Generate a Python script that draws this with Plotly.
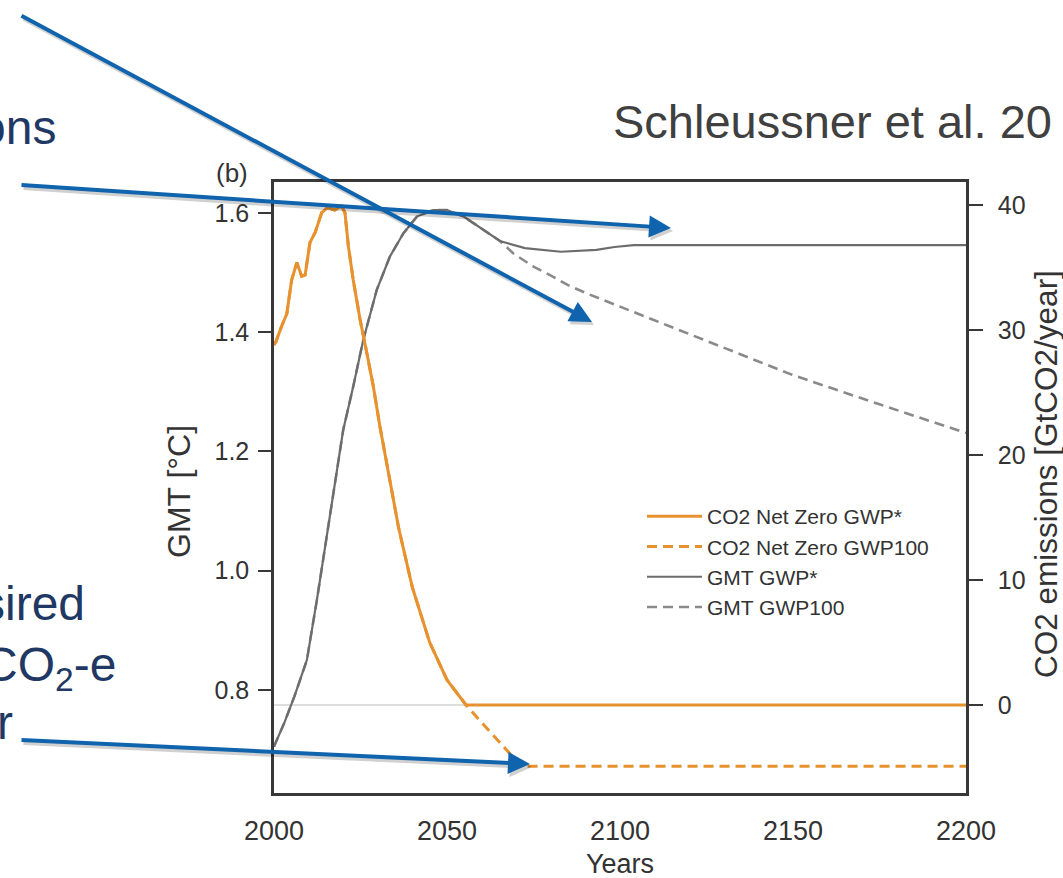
import plotly.graph_objects as go

# ---------------- data ----------------
co2_years_gwpstar = [2000, 2000.6, 2002.2, 2003.7, 2005.1, 2006.6, 2008.0, 2009.0, 2010.4, 2011.9,
                     2013.8, 2015.5, 2017.5, 2019.5, 2020.5, 2021.5, 2022.9, 2024.9, 2026.8, 2028.7,
                     2030.6, 2033, 2036, 2040, 2045, 2050, 2055.5, 2100, 2150, 2200]
co2_gwpstar = [28.8, 29.1, 30.3, 31.3, 34.0, 35.4, 34.3, 34.4, 37.0, 37.8,
               39.4, 39.8, 39.6, 39.9, 39.4, 36.7, 34.0, 30.8, 28.2, 25.5,
               22.3, 18.6, 14.2, 9.4, 5.0, 2.0, 0.0, 0.0, 0.0, 0.0]

co2_years_gwp100 = [2000, 2000.6, 2002.2, 2003.7, 2005.1, 2006.6, 2008.0, 2009.0, 2010.4, 2011.9,
                    2013.8, 2015.5, 2017.5, 2019.5, 2020.5, 2021.5, 2022.9, 2024.9, 2026.8, 2028.7,
                    2030.6, 2033, 2036, 2040, 2045, 2050, 2055.5, 2060, 2065, 2071.5, 2100, 2150, 2200]
co2_gwp100 = [28.8, 29.1, 30.3, 31.3, 34.0, 35.4, 34.3, 34.4, 37.0, 37.8,
              39.4, 39.8, 39.6, 39.9, 39.4, 36.7, 34.0, 30.8, 28.2, 25.5,
              22.3, 18.6, 14.2, 9.4, 5.0, 2.0, 0.0, -1.4, -2.9, -4.9, -4.9, -4.9, -4.9]

gmt_years_gwpstar = [2000, 2003, 2005.9, 2009.5, 2012.4, 2015, 2017.5, 2020, 2022.9, 2025.8,
                     2029.7, 2033.5, 2037.4, 2041.3, 2046, 2050, 2054.8, 2060.5, 2065.3, 2072.5,
                     2082.9, 2093.2, 2098.4, 2104, 2150, 2200]
gmt_gwpstar = [0.705, 0.745, 0.789, 0.850, 0.951, 1.050, 1.145, 1.236, 1.309, 1.387,
               1.471, 1.527, 1.566, 1.594, 1.605, 1.605, 1.594, 1.571, 1.553, 1.541,
               1.535, 1.538, 1.543, 1.546, 1.546, 1.546]

gmt_years_gwp100 = [2000, 2003, 2005.9, 2009.5, 2012.4, 2015, 2017.5, 2020, 2022.9, 2025.8,
                    2029.7, 2033.5, 2037.4, 2041.3, 2046, 2050, 2054.8, 2060.5, 2065.3, 2069.2,
                    2075, 2080.7, 2085, 2090.4, 2100, 2114.5, 2128.9, 2150, 2175, 2200]
gmt_gwp100 = [0.705, 0.745, 0.789, 0.850, 0.951, 1.050, 1.145, 1.236, 1.309, 1.387,
              1.471, 1.527, 1.566, 1.594, 1.605, 1.605, 1.594, 1.571, 1.553, 1.532,
              1.510, 1.493, 1.479, 1.465, 1.443, 1.409, 1.376, 1.328, 1.279, 1.231]

x_ticks = [2000, 2050, 2100, 2150, 2200]
gmt_ticks = [0.8, 1.0, 1.2, 1.4, 1.6]
gmt_ticktext = ["0.8", "1.0", "1.2", "1.4", "1.6"]
co2_ticks = [0, 10, 20, 30, 40]

series_names = ["CO2 Net Zero GWP*", "CO2 Net Zero GWP100", "GMT GWP*", "GMT GWP100"]

# ---------------- styling ----------------
W, H = 1063, 878
ML, MR, MT, MB = 274, 97, 182, 85
PW, PH = W - ML - MR, H - MT - MB
FONT = "Arial, Liberation Sans, Helvetica, sans-serif"
ORANGE = "#e8912f"
GREY_SOLID = "#6c6c6c"
GREY_DASH = "#8a8a8a"
AXC = "#383838"
TXT = "#333333"
NAVY = "#1f3864"
BLUE = "#1063ad"


def px(xp):
    return (xp - ML) / PW


def py(yp):
    return 1 - (yp - MT) / PH


fig = go.Figure()

fig.add_trace(go.Scatter(x=co2_years_gwp100, y=co2_gwp100, name=series_names[1], yaxis="y2",
                         mode="lines", line=dict(color=ORANGE, width=3, dash="10px,6px"),
                         legendrank=2))
fig.add_trace(go.Scatter(x=co2_years_gwpstar, y=co2_gwpstar, name=series_names[0], yaxis="y2",
                         mode="lines", line=dict(color=ORANGE, width=3), legendrank=1))
fig.add_trace(go.Scatter(x=gmt_years_gwp100, y=gmt_gwp100, name=series_names[3], yaxis="y",
                         mode="lines", line=dict(color=GREY_DASH, width=2.6, dash="10px,6px"),
                         legendrank=4))
fig.add_trace(go.Scatter(x=gmt_years_gwpstar, y=gmt_gwpstar, name=series_names[2], yaxis="y",
                         mode="lines", line=dict(color=GREY_SOLID, width=2.2), legendrank=3))

# zero-emission reference line
fig.add_shape(type="line", xref="paper", x0=0, x1=1, yref="y2", y0=0, y1=0,
              line=dict(color="#d2d2d2", width=1.5), layer="below")

annotations = []

# slide arrows (tail pixel -> tip pixel)
arrows = [((20, 15), (592, 322)), ((20, 185), (671, 228)), ((20, 740), (530, 764))]
for (tx, ty), (hx, hy) in arrows:
    annotations.append(dict(x=px(hx + 2), y=py(hy + 3), xref="paper", yref="paper",
                            ax=tx - hx, ay=ty - hy, text="", showarrow=True,
                            arrowhead=2, arrowsize=1.1, arrowwidth=4,
                            arrowcolor="rgba(0,0,0,0.18)"))
for (tx, ty), (hx, hy) in arrows:
    annotations.append(dict(x=px(hx), y=py(hy), xref="paper", yref="paper",
                            ax=tx - hx, ay=ty - hy, text="", showarrow=True,
                            arrowhead=2, arrowsize=1.1, arrowwidth=4, arrowcolor=BLUE))

# slide texts (fragments visible in the cropped slide)
slide_texts = [("ons", 58, 128), ("sired", 87, 603), ("CO<sub>2</sub>-e", 118, 668), ("r", 15, 722)]
for t, xr, yc in slide_texts:
    annotations.append(dict(text=t, x=px(xr), y=py(yc), xref="paper", yref="paper",
                            xanchor="right", yanchor="middle", showarrow=False,
                            font=dict(family=FONT, size=48, color=NAVY)))

annotations.append(dict(text="Schleussner et al. 20", x=px(611), y=py(122), xref="paper", yref="paper",
                        xanchor="left", yanchor="middle", showarrow=False,
                        font=dict(family=FONT, size=47, color="#404040")))

# panel label and axis titles
annotations.append(dict(text="(b)", x=px(232), y=py(173), xref="paper", yref="paper",
                        xanchor="center", yanchor="middle", showarrow=False,
                        font=dict(family=FONT, size=26, color=TXT)))
annotations.append(dict(text="GMT [°C]", x=px(179), y=py(492), xref="paper", yref="paper",
                        xanchor="center", yanchor="middle", showarrow=False, textangle=-90,
                        font=dict(family=FONT, size=32, color=TXT)))
annotations.append(dict(text="Years", x=px(620), y=py(864), xref="paper", yref="paper",
                        xanchor="center", yanchor="middle", showarrow=False,
                        font=dict(family=FONT, size=27, color=TXT)))
annotations.append(dict(text="CO2 emissions [GtCO2/year]", x=px(1046), y=py(474), xref="paper",
                        yref="paper", xanchor="center", yanchor="middle", showarrow=False,
                        textangle=-90, font=dict(family=FONT, size=31.5, color=TXT)))

fig.update_layout(
    width=W, height=H, autosize=False,
    margin=dict(l=ML, r=MR, t=MT, b=MB, pad=0),
    paper_bgcolor="white", plot_bgcolor="white",
    font=dict(family=FONT, color=TXT),
    showlegend=True,
    legend=dict(x=px(642), y=py(496), xanchor="left", yanchor="top",
                bgcolor="rgba(0,0,0,0)", borderwidth=0, itemwidth=55,
                font=dict(family=FONT, size=21, color=TXT), traceorder="normal"),
    annotations=annotations,
    xaxis=dict(range=[2000, 2200], tickvals=x_ticks, ticks="", showgrid=False, zeroline=False,
               showline=True, linecolor=AXC, linewidth=2.5, mirror=True,
               ticklabelstandoff=12, tickfont=dict(family=FONT, size=27, color=TXT)),
    yaxis=dict(range=[0.627, 1.652], tickvals=gmt_ticks, ticktext=gmt_ticktext, ticks="outside",
               ticklen=13, tickwidth=2, tickcolor=AXC, showgrid=False, zeroline=False,
               showline=True, linecolor=AXC, linewidth=2.5, mirror=True,
               ticklabelstandoff=4, tickfont=dict(family=FONT, size=25, color=TXT)),
    yaxis2=dict(range=[-7.04, 41.84], tickvals=co2_ticks, ticks="outside", overlaying="y",
                side="right", ticklen=14, tickwidth=2, tickcolor=AXC, showgrid=False,
                zeroline=False, showline=True, linecolor=AXC, linewidth=2.5,
                ticklabelstandoff=10, tickfont=dict(family=FONT, size=25, color=TXT)),
)

fig.write_html("out.html", config={"displayModeBar": False},
               post_script="document.body.style.margin='0px';")
